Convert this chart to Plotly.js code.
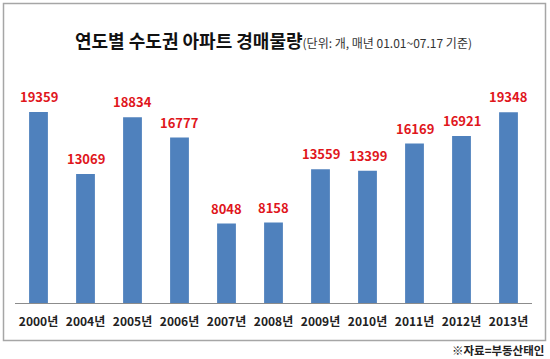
<!DOCTYPE html>
<html>
<head>
<meta charset="utf-8">
<script src="https://cdn.plot.ly/plotly-3.0.1.min.js"></script>
<style>
html,body{margin:0;padding:0;background:#fff;}
#chart{width:550px;height:359px;}
</style>
</head>
<body>
<div id="chart"></div>
<script>
var categories = ["2000년","2004년","2005년","2006년","2007년","2008년","2009년","2010년","2011년","2012년","2013년"];
var values = [19359,13069,18834,16777,8048,8158,13559,13399,16169,16921,19348];
var titleMain = "연도별 수도권 아파트 경매물량";
var titleSub = "(단위: 개, 매년 01.01~07.17 기준)";
var sourceText = "※자료=부동산태인";

var FONT = "'Noto Sans CJK KR', 'Noto Sans', sans-serif";
var L = 15, R = 18, T = 86, B = 56, W = 550, H = 359;
var pw = W - L - R, ph = H - T - B;
function px2x(x){ return (x - L) / pw; }
function px2y(y){ return (H - B - y) / ph; }

var annotations = categories.map(function(c, i){
  return {
    x: c, y: values[i], xref: 'x', yref: 'y',
    text: '<b>' + values[i] + '</b>',
    showarrow: false, yanchor: 'bottom', yshift: 4,
    font: {family: FONT, size: 13, color: '#e0161c'}
  };
});
annotations.push({
  xref: 'paper', yref: 'paper', x: px2x(273), y: px2y(40),
  xanchor: 'center', yanchor: 'middle', showarrow: false,
  text: '<b>' + titleMain + '</b><span style="font-size:12px;color:#333">' + titleSub + '</span>',
  font: {family: FONT, size: 18, color: '#111'}
});
annotations.push({
  xref: 'paper', yref: 'paper', x: px2x(546), y: px2y(350),
  xanchor: 'right', yanchor: 'middle', showarrow: false,
  text: '<b>' + sourceText + '</b>',
  font: {family: FONT, size: 11.5, color: '#222'}
});

var trace = {
  type: 'bar', x: categories, y: values,
  marker: {color: '#4f81bd'},
  hoverinfo: 'none'
};

var layout = {
  width: W, height: H,
  margin: {l: L, r: R, t: T, b: B, pad: 0},
  paper_bgcolor: '#fff', plot_bgcolor: '#fff',
  bargap: 0.6,
  showlegend: false,
  xaxis: {
    showline: true, linecolor: '#8c8c8c', linewidth: 1,
    ticks: '', showgrid: false, zeroline: false,
    tickfont: {family: FONT, size: 12, color: '#222', weight: 'bold'},
    ticklabelstandoff: 8
  },
  yaxis: {
    range: [0, 22000], visible: false, showgrid: false, zeroline: false, fixedrange: true
  },
  annotations: annotations,
  shapes: [{
    type: 'rect', xref: 'paper', yref: 'paper',
    x0: px2x(3.5), x1: px2x(545.5), y0: px2y(340.5), y1: px2y(3.5),
    line: {color: '#a6a6a6', width: 1.5}, fillcolor: 'rgba(0,0,0,0)', layer: 'below'
  }]
};

Plotly.newPlot('chart', [trace], layout, {staticPlot: true, displayModeBar: false});
</script>
</body>
</html>
